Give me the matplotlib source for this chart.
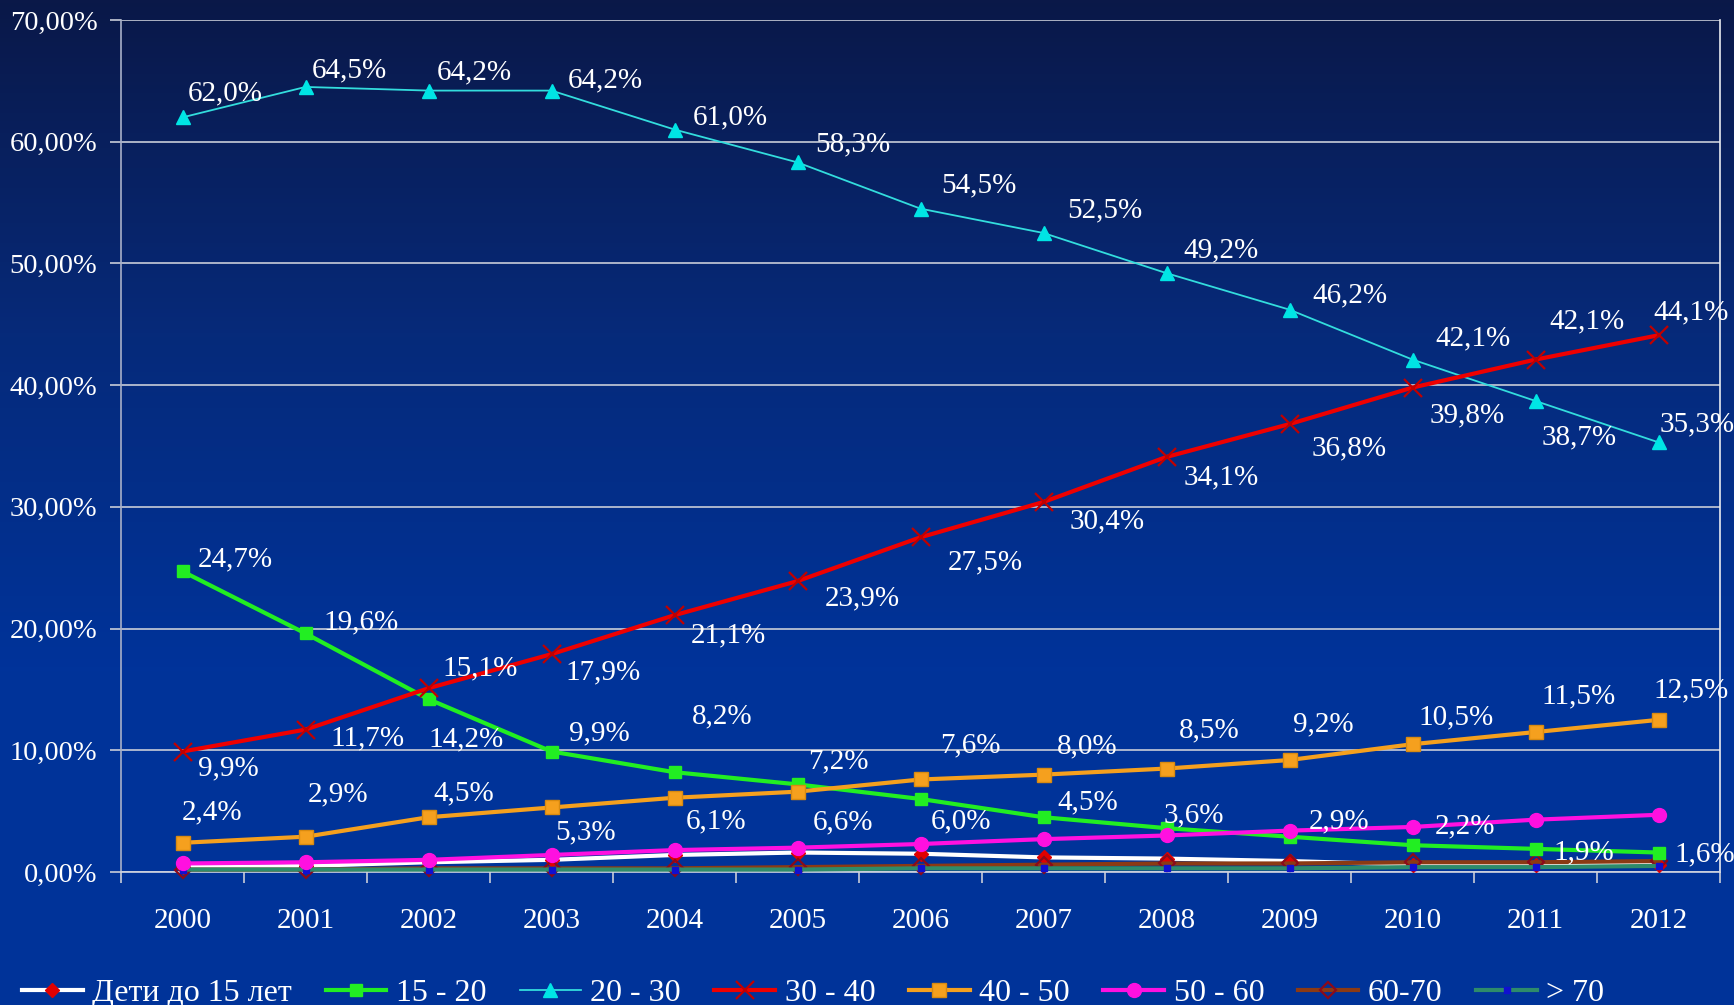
import matplotlib
matplotlib.use("Agg")
import matplotlib.pyplot as plt
import numpy as np
from matplotlib.colors import LinearSegmentedColormap
from matplotlib.ticker import FixedLocator, FuncFormatter

plt.rcParams['font.family'] = ['Liberation Serif', 'DejaVu Serif']

years = ['2000', '2001', '2002', '2003', '2004', '2005', '2006',
         '2007', '2008', '2009', '2010', '2011', '2012']

series_names = ['Дети до 15 лет', '15 - 20', '20 - 30', '30 - 40',
                '40 - 50', '50 - 60', '60-70', '> 70']

children = [0.4, 0.5, 0.8, 1.0, 1.4, 1.6, 1.5, 1.2, 1.1, 0.9, 0.6, 0.6, 0.6]
age_15_20 = [24.7, 19.6, 14.2, 9.9, 8.2, 7.2, 6.0, 4.5, 3.6, 2.9, 2.2, 1.9, 1.6]
age_20_30 = [62.0, 64.5, 64.2, 64.2, 61.0, 58.3, 54.5, 52.5, 49.2, 46.2, 42.1, 38.7, 35.3]
age_30_40 = [9.9, 11.7, 15.1, 17.9, 21.1, 23.9, 27.5, 30.4, 34.1, 36.8, 39.8, 42.1, 44.1]
age_40_50 = [2.4, 2.9, 4.5, 5.3, 6.1, 6.6, 7.6, 8.0, 8.5, 9.2, 10.5, 11.5, 12.5]
age_50_60 = [0.7, 0.8, 1.0, 1.4, 1.8, 2.0, 2.3, 2.7, 3.0, 3.4, 3.7, 4.3, 4.7]
age_60_70 = [0.2, 0.2, 0.3, 0.3, 0.3, 0.4, 0.5, 0.6, 0.7, 0.7, 0.8, 0.8, 0.9]
age_70_up = [0.2, 0.2, 0.2, 0.2, 0.2, 0.2, 0.3, 0.3, 0.3, 0.3, 0.4, 0.4, 0.5]

y_ticks = [0, 10, 20, 30, 40, 50, 60, 70]

# label offsets (pixels) for the labelled series
off_20_30 = [(43, 24), (44, 17), (46, 18), (54, 10), (56, 12), (55, 18), (58, 23),
             (61, 23), (55, 23), (60, 14), (60, 21), (44, -36), (39, 18)]
off_30_40 = [(46, -17), (62, -9), (52, 20), (52, -18), (54, -20), (65, -17), (65, -25),
             (64, -19), (55, -20), (60, -24), (55, -28), (51, 38), (33, 23)]
off_15_20 = [(53, 12), (56, 11), (38, -40), (48, 18), (48, 56), (41, 23), (41, -22),
             (44, 15), (27, 13), (50, 15), (53, 19), (48, -4), (46, -2)]
off_40_50 = [(30, 30), (33, 42), (35, 24), (34, -25), (42, -24), (46, -31), (50, 34),
             (44, 28), (43, 38), (34, 36), (44, 27), (43, 36), (33, 29)]

W, H = 1734, 1005
fig = plt.figure(figsize=(W / 100, H / 100), dpi=100)

# background gradient
bg = fig.add_axes([0, 0, 1, 1], zorder=-10)
cmap = LinearSegmentedColormap.from_list('bg', ['#0a1848', '#062a7a', '#00339a', '#003399'])
grad = np.linspace(0, 1, 256).reshape(-1, 1)
bg.imshow(grad, aspect='auto', cmap=cmap, extent=[0, 1, 0, 1], origin='upper')
bg.set_axis_off()

ax = fig.add_axes([121 / W, 1 - 872 / H, (1720 - 121) / W, (872 - 20) / H])
ax.set_facecolor('none')

x = np.arange(len(years))

styles = [
    (children, dict(color='white', lw=3, marker='D', ms=7, mfc='#e00000', mec='#e00000', zorder=3)),
    (age_15_20, dict(color='#22ee22', lw=3, marker='s', ms=8, mfc='#22ee22', mec='#22ee22', zorder=4)),
    (age_20_30, dict(color='#33dddd', lw=1.3, marker='^', ms=10, mfc='#00e5e5', mec='#00e5e5', zorder=4)),
    (age_30_40, dict(color='#ee0000', lw=3, marker='x', ms=13, mew=1.6, mec='#c00000', zorder=5)),
    (age_40_50, dict(color='#f5a01e', lw=3, marker='s', ms=10, mfc='#f5a01e', mec='#d88a10', zorder=4)),
    (age_50_60, dict(color='#ff10e0', lw=3, marker='o', ms=10, mfc='#ff10e0', mec='#ff10e0', zorder=4)),
    (age_60_70, dict(color='#8b3a14', lw=3, marker='D', ms=8, mfc='none', mec='#8b0a1a', mew=1.6, zorder=3)),
    (age_70_up, dict(color='#2e8b6a', lw=3, marker='s', ms=5, mfc='#1010d0', mec='#1010d0', zorder=3)),
]

for (vals, st), name in zip(styles, series_names):
    ax.plot(x, vals, label=name, clip_on=False, **st)

label_font = dict(fontsize=21, color='white', ha='center', va='center')
for vals, offs in [(age_20_30, off_20_30), (age_30_40, off_30_40),
                   (age_15_20, off_15_20), (age_40_50, off_40_50)]:
    for i, (v, o) in enumerate(zip(vals, offs)):
        ax.annotate(f"{v:.1f}%".replace('.', ','), (x[i], v), xytext=o,
                    textcoords='offset pixels', annotation_clip=False, zorder=10,
                    **label_font)

ax.set_xlim(-0.5, len(years) - 0.5)
ax.set_ylim(0, 70)
ax.set_xticks(x)
ax.set_xticklabels(years)
ax.xaxis.set_minor_locator(FixedLocator(np.arange(-0.5, len(years), 1.0)))
ax.tick_params(axis='x', which='major', length=0, pad=26, labelsize=21, labelcolor='white')
ax.tick_params(axis='x', which='minor', length=8, color='#c8ccd8', width=1.2, direction='out')
ax.set_yticks(y_ticks)
ax.yaxis.set_major_formatter(FuncFormatter(lambda v, p: f"{v:.2f}%".replace('.', ',')))
ax.tick_params(axis='y', length=8, color='#c8ccd8', width=1.2, pad=9,
               labelsize=20.5, labelcolor='white', direction='out')
ax.grid(axis='y', color='#c8ccd8', lw=1.2, zorder=0)
ax.set_axisbelow(True)
ax.spines['top'].set_visible(False)
ax.spines['left'].set_color('#a8b0c8')
ax.spines['left'].set_linewidth(1.2)
ax.spines['bottom'].set_color('#d0d4e0')
ax.spines['bottom'].set_linewidth(1.2)
ax.spines['right'].set_color('#e8eaf0')
ax.spines['right'].set_linewidth(1.2)

leg = fig.legend(loc='center', bbox_to_anchor=(0.469, 1 - 993 / H), ncol=8,
                 frameon=False, fontsize=23, handlelength=1.9, handletextpad=0.3,
                 columnspacing=1.05, labelcolor='white', borderaxespad=0)

fig.savefig('out.png', dpi=100)
